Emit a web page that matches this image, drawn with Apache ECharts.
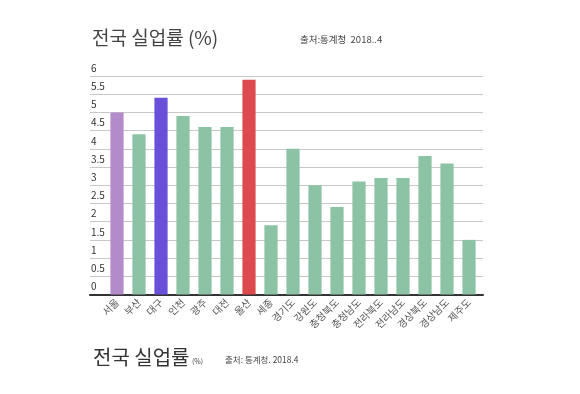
<!DOCTYPE html>
<html><head><meta charset="utf-8">
<script src="https://cdn.jsdelivr.net/npm/echarts@6/dist/echarts.min.js"></script>
<style>html,body{margin:0;padding:0;background:#fff}#c{width:580px;height:394px}</style>
</head><body><div id="c"></div>
<script>
const categories = ['서울','부산','대구','인천','광주','대전','울산','세종','경기도','강원도','충청북도','충청남도','전라북도','전라남도','경상북도','경상남도','제주도'];
const rates = [5.0,4.4,5.4,4.9,4.6,4.6,5.9,1.9,4.0,3.0,2.4,3.1,3.2,3.2,3.8,3.6,1.5];
const barColors = ['#b38bcb','#8dc3a5','#6a50d8','#8dc3a5','#8dc3a5','#8dc3a5','#dc4a4e','#8dc3a5','#8dc3a5','#8dc3a5','#8dc3a5','#8dc3a5','#8dc3a5','#8dc3a5','#8dc3a5','#8dc3a5','#8dc3a5'];
const yTicks = ['0','0.5','1','1.5','2','2.5','3','3.5','4','4.5','5','5.5','6'];

const font = '"Noto Sans CJK KR", "Noto Sans", sans-serif';
const chart = echarts.init(document.getElementById('c'));
chart.setOption({
  animation: false,
  textStyle: {fontFamily: font},
  title: [
    {text: '전국 실업률 (%)', left: 87, top: 23, textStyle: {fontSize: 19, fontWeight: 'normal', color: '#444', fontFamily: font}},
    {text: '출처:통계청  2018..4', left: 295, top: 30, textStyle: {fontSize: 9.5, fontWeight: 'normal', color: '#444', fontFamily: font}},
    {text: '전국 실업률', left: 88, top: 342, textStyle: {fontSize: 20, fontWeight: 'normal', color: '#333', fontFamily: font}},
    {text: '(%)', left: 187, top: 353, textStyle: {fontSize: 7, fontWeight: 'normal', color: '#444', fontFamily: font}},
    {text: '출처: 통계청. 2018.4', left: 220, top: 351, textStyle: {fontSize: 8.5, fontWeight: 'normal', color: '#444', fontFamily: font}}
  ],
  grid: [
    {left: 90, width: 393, top: 76, height: 218.5},
    {left: 106, width: 374, top: 76, height: 218.5}
  ],
  xAxis: [
    {gridIndex: 0, type: 'category', data: [''], axisLine: {show: true, lineStyle: {color: '#333', width: 2}}, axisTick: {show: false}, axisLabel: {show: false}},
    {gridIndex: 1, type: 'category', data: categories, axisLine: {show: false}, axisTick: {show: false},
      axisLabel: {rotate: 45, fontSize: 10, color: '#555', margin: 6, interval: 0}}
  ],
  yAxis: [
    {gridIndex: 0, type: 'value', min: 0, max: 6, interval: 0.5,
      axisLine: {show: false}, axisTick: {show: false},
      splitLine: {lineStyle: {color: '#c8c8c8', width: 1}},
      axisLabel: {inside: true, verticalAlign: 'bottom', margin: 1, padding: [0,0,3,0], fontSize: 10, color: '#333',
        formatter: v => yTicks[Math.round(v*2)]}},
    {gridIndex: 1, type: 'value', min: 0, max: 6, interval: 0.5, show: false}
  ],
  series: [{
    type: 'bar', xAxisIndex: 1, yAxisIndex: 1,
    data: rates.map((v, i) => ({value: v, itemStyle: {color: barColors[i]}})),
    barCategoryGap: '40%'
  }]
});
</script></body></html>
